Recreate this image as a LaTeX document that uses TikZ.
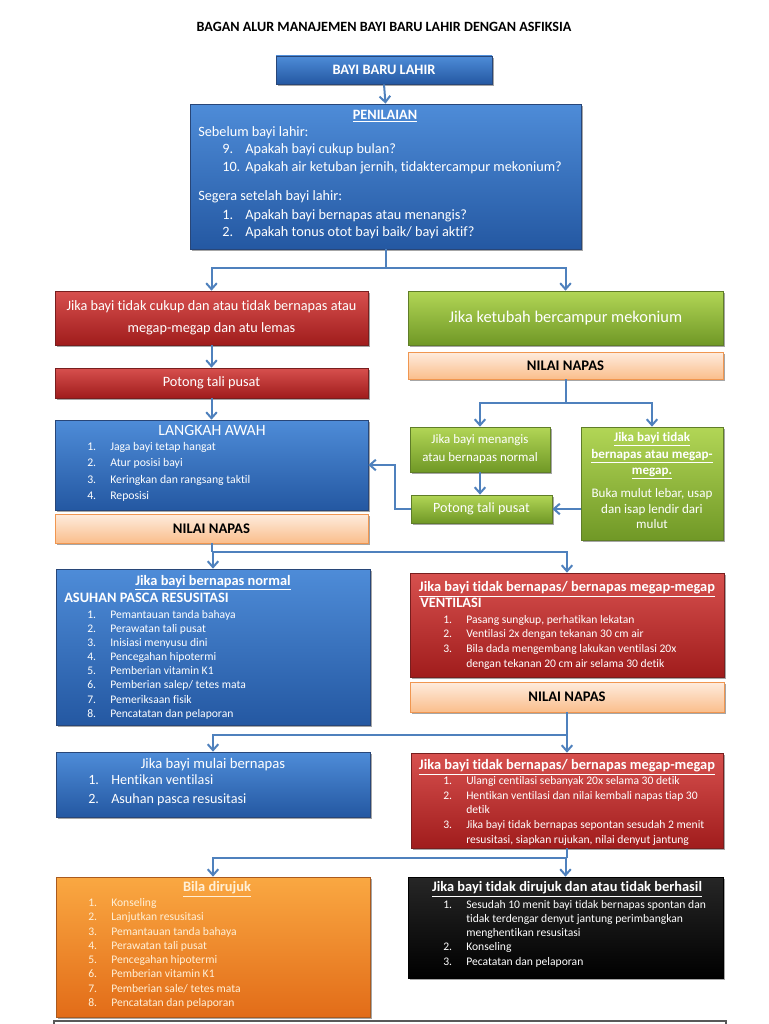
\documentclass[tikz,border=0pt]{standalone}
\usepackage{fontspec}
\setmainfont{Carlito}[Ligatures={NoCommon}]
\usetikzlibrary{arrows.meta,shadows,calc}
\definecolor{arrblue}{RGB}{79,129,189}
\definecolor{blueT}{RGB}{78,140,216}
\definecolor{blueB}{RGB}{36,88,162}
\definecolor{blueD}{RGB}{40,70,120}
\definecolor{redT}{RGB}{215,80,78}
\definecolor{redB}{RGB}{160,28,28}
\definecolor{redD}{RGB}{120,30,30}
\definecolor{grnT}{RGB}{178,214,86}
\definecolor{grnB}{RGB}{112,152,38}
\definecolor{grnD}{RGB}{95,125,40}
\definecolor{peaT}{RGB}{254,236,222}
\definecolor{peaB}{RGB}{250,190,140}
\definecolor{peaD}{RGB}{240,150,80}
\definecolor{ornT}{RGB}{250,168,66}
\definecolor{ornB}{RGB}{226,108,24}
\definecolor{ornD}{RGB}{170,90,30}
\definecolor{ornTx}{RGB}{255,240,215}
\newcommand\mkbox[7]{\node[#6, minimum width={(#4-#2)*0.75pt}, minimum height={(#5-#3)*0.75pt}] (#1) at ({(#2+#4)/2},{(#3+#5)/2}) {#7};}
\begin{document}
\begin{tikzpicture}[x=0.75pt,y=-0.75pt,
  base/.style={draw, line width=0.5pt, inner sep=0pt, align=center, text=white,
    drop shadow={shadow xshift=1.2pt, shadow yshift=-1.8pt, opacity=0.35, fill=black}},
  bluebox/.style={base, draw=blueD, top color=blueT, bottom color=blueB},
  redbox/.style={base, draw=redD, top color=redT, bottom color=redB},
  grnbox/.style={base, draw=grnD, top color=grnT, bottom color=grnB},
  peabox/.style={base, draw=peaD, top color=peaT, bottom color=peaB, text=black,
    font=\bfseries\fontsize{11}{13}\selectfont},
  ornbox/.style={base, draw=ornD, top color=ornT, bottom color=ornB},
  blkbox/.style={base, draw=black, top color=black!85, bottom color=black},
  tx/.style={inner sep=0pt, text=white, text height=0.72em, text depth=0.2em},
  lt/.style={tx, anchor=west},
  li/.style={tx, anchor=west, font=\fontsize{8.7}{10}\selectfont},
  hd/.style={tx, font=\bfseries\fontsize{10.8}{12}\selectfont},
  ln/.style={draw=arrblue, line width=1.5pt},
  arr/.style={ln, -{Straight Barb[length=4.5pt,width=8pt]}}
]
\useasboundingbox (0,0) rectangle (768,1024);

% title
\node[font=\bfseries\fontsize{10.6}{12}\selectfont] (title) at (384,27) {BAGAN ALUR MANAJEMEN BAYI BARU LAHIR DENGAN ASFIKSIA};

% top boxes
\mkbox{bayi}{276}{56}{492}{84}{bluebox, font=\bfseries\fontsize{10.8}{12}\selectfont}{BAYI BARU LAHIR}
\mkbox{pen}{190}{104}{581}{249}{bluebox}{}
\begin{scope}[font=\fontsize{10.7}{12}\selectfont]
\node[hd, font=\bfseries\fontsize{10.7}{12}\selectfont] (penh) at (385,116) {\underline{PENILAIAN}};
\node[lt] (pen1) at (198,133) {Sebelum bayi lahir:};
\node[lt] (pen2n) at (222,150) {9.};
\node[lt] (pen2t) at (245,150) {Apakah bayi cukup bulan?};
\node[lt] (pen3n) at (222,168) {10.};
\node[lt] (pen3t) at (245,168) {Apakah air ketuban jernih, tidaktercampur mekonium?};
\node[lt] (pen4) at (198,197) {Segera setelah bayi lahir:};
\node[lt] (pen5n) at (222,216) {1.};
\node[lt] (pen5t) at (245,216) {Apakah bayi bernapas atau menangis?};
\node[lt] (pen6n) at (222,233) {2.};
\node[lt] (pen6t) at (245,233) {Apakah tonus otot bayi baik/ bayi aktif?};
\end{scope}

% left column
\mkbox{red1}{55}{291}{368}{345}{redbox, font=\fontsize{10.7}{16.5}\selectfont}{Jika bayi tidak cukup dan atau tidak bernapas atau\\megap-megap dan atu lemas}
\mkbox{red2}{55}{368}{368}{398}{redbox, font=\fontsize{10.7}{12}\selectfont}{Potong tali pusat}
\mkbox{lang}{55}{420}{368}{510}{bluebox}{}
\node[tx, font=\fontsize{11.8}{13}\selectfont] (langh) at (212,432) {LANGKAH AWAH};
\foreach \t [count=\i] in {Jaga bayi tetap hangat, Atur posisi bayi, Keringkan dan rangsang taktil, Reposisi}{
  \node[li, font=\fontsize{8.8}{10}\selectfont] (la\i n) at (87,{447+16.3*(\i-1)}) {\i.};
  \node[li, font=\fontsize{8.8}{10}\selectfont] (la\i t) at (110,{447+16.3*(\i-1)}) {\t};
}
\mkbox{nn1}{55}{514}{368}{543}{peabox}{NILAI NAPAS}

% right column, upper
\mkbox{grn1}{408}{291}{723}{345}{grnbox, font=\fontsize{12.3}{14}\selectfont}{Jika ketubah bercampur mekonium}
\mkbox{nn2}{408}{352}{723}{379}{peabox}{NILAI NAPAS}
\mkbox{sg1}{410}{427}{550}{472}{grnbox, font=\fontsize{9.7}{13.5}\selectfont}{Jika bayi menangis\\atau bernapas normal}
\mkbox{sg2}{411}{495}{552}{523}{grnbox, font=\fontsize{10.6}{12}\selectfont}{Potong tali pusat}
\mkbox{sg3}{581}{427}{723}{540}{grnbox}{}
\begin{scope}[font=\fontsize{9.8}{11}\selectfont]
\node[tx, font=\bfseries\fontsize{9.8}{11}\selectfont] (sg3a) at (652,438) {\underline{Jika bayi tidak}};
\node[tx, font=\bfseries\fontsize{9.8}{11}\selectfont] (sg3b) at (652,455) {\underline{bernapas atau megap-}};
\node[tx, font=\bfseries\fontsize{9.8}{11}\selectfont] (sg3c) at (652,471) {\underline{megap.}};
\node[tx] (sg3d) at (652,494) {Buka mulut lebar, usap};
\node[tx] (sg3e) at (652,510) {dan isap lendir dari};
\node[tx] (sg3f) at (652,525) {mulut};
\end{scope}

% middle row
\mkbox{asu}{56}{569}{370}{725}{bluebox}{}
\node[hd] (asuh) at (213,582) {\underline{Jika bayi bernapas normal}};
\node[hd, anchor=west] (asuh2) at (64,599) {ASUHAN PASCA RESUSITASI};
\foreach \t [count=\i] in {Pemantauan tanda bahaya, Perawatan tali pusat, Inisiasi menyusu dini, Pencegahan hipotermi, Pemberian vitamin K1, Pemberian salep/ tetes mata, Pemeriksaan fisik, Pencatatan dan pelaporan}{
  \node[li] (as\i n) at (87,{615+14.1*(\i-1)}) {\i.};
  \node[li] (as\i t) at (110,{615+14.1*(\i-1)}) {\t};
}
\mkbox{vent}{410}{573}{724}{677}{redbox}{}
\node[hd] (venh) at (567,588) {\underline{Jika bayi tidak bernapas/ bernapas megap-megap}};
\node[hd, anchor=west] (venh2) at (420,604) {VENTILASI};
\node[li] (ve1n) at (443,620) {1.};
\node[li] (ve1t) at (466,620) {Pasang sungkup, perhatikan lekatan};
\node[li] (ve2n) at (443,634) {2.};
\node[li] (ve2t) at (466,634) {Ventilasi 2x dengan tekanan 30 cm air};
\node[li] (ve3n) at (443,649) {3.};
\node[li] (ve3t) at (466,649) {Bila dada mengembang lakukan ventilasi 20x};
\node[li] (ve3u) at (466,664) {dengan tekanan 20 cm air selama 30 detik};
\mkbox{nn3}{410}{682}{724}{712}{peabox}{NILAI NAPAS}

% lower row
\mkbox{mul}{56}{752}{370}{817}{bluebox}{}
\node[tx, font=\fontsize{11}{12}\selectfont] (mulh) at (213,765) {Jika bayi mulai bernapas};
\node[lt, font=\fontsize{10.6}{12}\selectfont] (mu1n) at (88,781) {1.};
\node[lt, font=\fontsize{10.6}{12}\selectfont] (mu1t) at (111,781) {Hentikan ventilasi};
\node[lt, font=\fontsize{10.6}{12}\selectfont] (mu2n) at (88,800) {2.};
\node[lt, font=\fontsize{10.6}{12}\selectfont] (mu2t) at (111,800) {Asuhan pasca resusitasi};

\mkbox{red3}{411}{753}{723}{848}{redbox}{}
\node[hd] (r3h) at (567,766) {\underline{Jika bayi tidak bernapas/ bernapas megap-megap}};
\node[li] (r31n) at (443,781) {1.};
\node[li] (r31t) at (466,781) {Ulangi centilasi sebanyak 20x selama 30 detik};
\node[li] (r32n) at (443,796) {2.};
\node[li] (r32t) at (466,796) {Hentikan ventilasi dan nilai kembali napas tiap 30};
\node[li] (r32u) at (466,810) {detik};
\node[li] (r33n) at (443,825) {3.};
\node[li] (r33t) at (466,825) {Jika bayi tidak bernapas sepontan sesudah 2 menit};
\node[li] (r33u) at (466,840) {resusitasi, siapkan rujukan, nilai denyut jantung};

% bottom row
\mkbox{orn}{56}{877}{370}{1017}{ornbox}{}
\node[hd, text=ornTx] (ornh) at (217,888) {\underline{Bila dirujuk}};
\foreach \t [count=\i] in {Konseling, Lanjutkan resusitasi, Pemantauan tanda bahaya, Perawatan tali pusat, Pencegahan hipotermi, Pemberian vitamin K1, Pemberian sale/ tetes mata, Pencatatan dan pelaporan}{
  \node[li, text=ornTx] (or\i n) at (88,{903+14.3*(\i-1)}) {\i.};
  \node[li, text=ornTx] (or\i t) at (111,{903+14.3*(\i-1)}) {\t};
}
\mkbox{blk}{408}{877}{723}{978}{blkbox}{}
\node[hd] (blkh) at (567,888) {\underline{Jika bayi tidak dirujuk dan atau tidak berhasil}};
\node[li] (bk1n) at (443,905) {1.};
\node[li] (bk1t) at (466,905) {Sesudah 10 menit bayi tidak bernapas spontan dan};
\node[li] (bk1u) at (466,919) {tidak terdengar denyut jantung perimbangkan};
\node[li] (bk1v) at (466,933) {menghentikan resusitasi};
\node[li] (bk2n) at (443,947) {2.};
\node[li] (bk2t) at (466,947) {Konseling};
\node[li] (bk3n) at (443,962) {3.};
\node[li] (bk3t) at (466,962) {Pecatatan dan pelaporan};

% bottom frame edge
\draw[black!65, line width=0.8pt] (54,1030) -- (54,1021) -- (726,1021) -- (726,1030);

% connectors
\draw[arr] (bayi.south) -- (pen.north);
\coordinate (j1) at (385.5,268);
\draw[ln] (pen.south) -- (j1);
\draw[arr] (j1) -| (red1.north);
\draw[arr] (j1) -| (grn1.north);
\draw[arr] (red1.south) -- (red2.north);
\draw[arr] (red2.south) -- (lang.north);
\coordinate (j2) at (565.5,403);
\draw[ln] (nn2.south) -- (j2);
\draw[arr] (j2) -| (sg1.north);
\draw[arr] (j2) -| (sg3.north);
\draw[arr] (sg1.south) -- (sg1.south |- sg2.north);
\draw[arr] (sg3.west |- sg2.east) -- (sg2.east);
\coordinate (k1) at (395,509);
\draw[arr] (sg2.west) -- (k1) |- (lang.east);
\coordinate (j3) at (211.5,552);
\draw[ln] (nn1.south) -- (j3);
\draw[arr] (j3) -| (asu.north);
\draw[arr] (j3) -| (vent.north);
\coordinate (j4) at (567,735);
\draw[ln] (nn3.south) -- (j4);
\draw[arr] (j4) -| (mul.north);
\draw[arr] (j4) -| (red3.north);
\coordinate (j5) at (567,858);
\draw[ln] (red3.south) -- (j5);
\draw[arr] (j5) -| (orn.north);
\draw[arr] (j5) -| (blk.north);
\end{tikzpicture}
\end{document}
